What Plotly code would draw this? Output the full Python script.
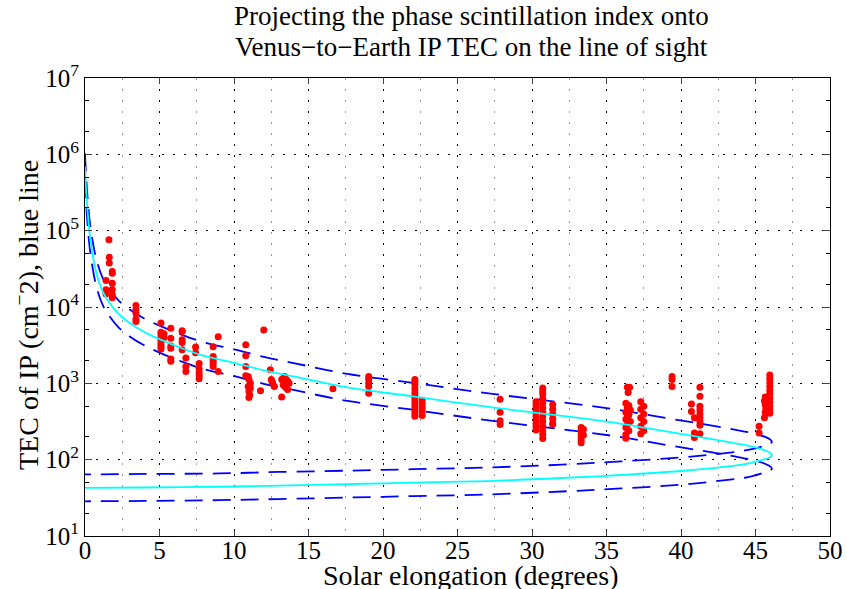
import plotly.graph_objects as go

# ---- model curve (cyan): elongation (deg), TEC (cm^-2)
model_elong = [0.0, 0.1, 0.3, 0.5, 0.8, 1.2, 1.6, 2.2, 3.0, 4.0, 5.0, 6.5, 8.0, 10.0, 12.0,
               14.0, 17.5, 22.0, 26.0, 30.0, 33.0, 36.0, 39.0, 41.5, 43.5, 45.0, 45.6, 46.0,
               46.1, 45.9, 45.5, 44.5, 43.0, 40.0, 36.0, 32.0, 27.0, 22.0, 18.0, 13.0, 9.0,
               4.0, 0.0]
model_tec = [6.9e5, 2.82e5, 9.55e4, 5.01e4, 2.63e4, 1.58e4, 1.17e4, 8320, 6170, 4680, 3800,
             2880, 2290, 1860, 1480, 1230, 891, 676, 525, 417, 355, 295, 234, 195, 166, 145,
             133, 122, 114, 106, 100, 89, 81, 71, 63, 57.5, 52.5, 50, 48, 45.7, 44.2, 43.2,
             42.7]
# ---- dashed envelope (blue)
upper_tec = [1.035e6, 4.23e5, 1.43e5, 7.5e4, 3.95e4, 2.37e4, 1.76e4, 12480, 9260, 7020, 5700,
             4320, 3440, 2790, 2220, 1845, 1340, 1014, 788, 626, 533, 443, 351, 293, 249, 218,
             200, 183, 171, 159, 150, 134, 122, 107, 95, 86, 79, 75, 72, 69, 66, 65, 64]
lower_tec = [4.6e5, 1.88e5, 6.37e4, 3.34e4, 1.75e4, 1.05e4, 7800, 5550, 4110, 3120, 2530,
             1920, 1530, 1240, 987, 820, 594, 451, 350, 278, 237, 197, 156, 130, 111, 97,
             89, 81, 76, 71, 67, 59, 54, 47, 42, 38.3, 35, 33.3, 32, 30.5, 29.5, 28.8, 28.5]

# ---- observations (red dots)
obs_elong = [
    1.61, 1.63, 1.63, 1.83, 1.83, 1.41, 1.83, 1.83, 1.41, 1.41, 1.83, 1.83,
    3.42, 3.42, 3.42, 3.42, 3.42,
    5.1, 5.1, 5.1, 5.1, 5.1, 5.1, 5.1, 5.1, 5.1, 5.3, 5.3,
    5.76, 5.76, 5.76, 5.76, 5.76, 5.76,
    6.52, 6.52, 6.52, 6.52, 6.52,
    6.77, 6.77, 6.77,
    7.42, 7.42,
    7.66, 7.66, 7.66, 7.66, 7.66,
    8.6, 8.6, 8.6, 8.6, 8.6, 8.6, 8.94, 8.94,
    10.79, 10.79, 10.79, 10.79, 10.95, 11.0, 11.1, 10.95, 11.1, 11.0, 11.05, 11.0,
    11.78, 12.0, 12.44, 12.5, 12.6, 12.7, 12.55,
    13.2, 13.3, 13.4, 13.5, 13.6, 13.7, 13.3, 13.45, 13.6, 13.2,
    16.64,
    19.04, 19.04, 19.04, 19.04, 19.04,
    22.14, 22.14, 22.14, 22.14, 22.14, 22.14, 22.14, 22.14, 22.14, 22.14, 22.14, 22.14, 22.14,
    22.63, 22.63, 22.63, 22.63, 22.63,
    27.86, 27.86, 27.86, 27.86,
    30.27, 30.27, 30.27, 30.27, 30.27, 30.27, 30.27, 30.27, 30.27, 30.27,
    30.72, 30.72, 30.72, 30.72, 30.72, 30.72, 30.72, 30.72, 30.72, 30.72, 30.72, 30.72, 30.72,
    31.39, 31.39, 31.39, 31.39, 31.39, 31.39,
    33.3, 33.3, 33.3, 33.3, 33.3, 33.3, 33.45, 33.45,
    36.55, 36.4, 36.45, 36.3, 36.5, 36.4, 36.6, 36.3, 36.5, 36.4, 36.3, 36.6, 36.4, 36.3,
    36.5, 36.3, 36.3,
    37.3, 37.5, 37.3, 37.5, 37.3, 37.5, 37.3, 37.5, 37.3,
    39.4, 39.4, 39.4,
    40.7, 40.7, 40.9, 40.9, 40.9,
    41.27, 41.27, 41.27, 41.27, 41.27, 41.27, 41.27, 41.27, 41.27,
    45.24, 45.24,
    45.65, 45.6, 45.65, 45.7, 45.65, 45.6,
    45.96, 45.96, 45.96, 45.96, 45.96, 45.96, 45.96, 45.96, 45.96, 45.96, 45.96,
]
obs_tec = [
    75800, 44700, 37600, 29200, 27600, 22300, 20400, 17000, 16800, 14800, 14500, 13200,
    10500, 9300, 8300, 6950, 6460,
    6170, 4680, 4370, 3980, 3720, 3470, 3240, 3020, 2820, 4470, 3980,
    5250, 3890, 3090, 2880, 2090, 1950,
    4900, 4790, 3720, 3430, 2750,
    2140, 1660, 1430,
    2990, 2510,
    1820, 1550, 1380, 1260, 1150,
    3020, 2240, 2090, 1950, 1820, 1660, 4070, 1430,
    3200, 2290, 1660, 1260, 1230, 1120, 1000, 910, 870, 780, 710, 650,
    800, 5000, 1510, 1120, 1000, 910, 1050,
    1120, 1170, 1230, 1120, 1070, 1000, 955, 890, 830, 660,
    850,
    1230, 1120, 1000, 910, 740,
    1120, 1050, 955, 850, 760, 690, 630, 575, 525, 480, 435, 400, 370,
    600, 537, 480, 427, 380,
    617, 417, 324, 288,
    575, 525, 480, 437, 398, 363, 331, 295, 269, 245,
    870, 795, 725, 630, 550, 480, 417, 363, 316, 275, 240, 214, 190,
    525, 457, 398, 347, 302, 288,
    263, 240, 219, 200, 182, 166, 250, 210,
    891, 891, 759, 550, 513, 479, 447, 417, 389, 363, 339, 316, 288, 263,
    240, 214, 191,
    575, 501, 457, 398, 355, 316, 275, 240, 219,
    1230, 1120, 910,
    537, 427, 355, 224, 195,
    891, 676, 501, 447, 398, 355, 316, 282, 219,
    275, 224,
    661, 589, 525, 468, 417, 355,
    1288, 1148, 1023, 912, 813, 724, 631, 562, 501, 447, 407,
]

x_ticks = [0, 5, 10, 15, 20, 25, 30, 35, 40, 45, 50]
y_ticks = [1e1, 1e2, 1e3, 1e4, 1e5, 1e6, 1e7]
y_ticktext = ["10<sup>1</sup>", "10<sup>2</sup>", "10<sup>3</sup>", "10<sup>4</sup>",
              "10<sup>5</sup>", "10<sup>6</sup>", "10<sup>7</sup>"]
title_lines = ["Projecting the phase scintillation index onto",
               "Venus\u2212to\u2212Earth IP TEC on the line of sight"]

FONT = "Liberation Serif"
W, H = 847, 589
L, R, T, B = 85, 830, 78, 536

fig = go.Figure()
fig.add_trace(go.Scatter(x=model_elong, y=upper_tec, mode="lines",
                         line=dict(color="#0000FF", width=1.8, dash="18px,10px", shape="spline"),
                         showlegend=False, hoverinfo="skip"))
fig.add_trace(go.Scatter(x=model_elong, y=lower_tec, mode="lines",
                         line=dict(color="#0000FF", width=1.8, dash="18px,10px", shape="spline"),
                         showlegend=False, hoverinfo="skip"))
fig.add_trace(go.Scatter(x=obs_elong, y=obs_tec, mode="markers",
                         marker=dict(color="#FF0000", size=7, line=dict(width=0)),
                         showlegend=False))
fig.add_trace(go.Scatter(x=model_elong, y=model_tec, mode="lines",
                         line=dict(color="#00FFFF", width=1.8, shape="spline"),
                         showlegend=False))


def px_x(p):
    return (p - L) / (R - L)


def px_y(p):
    return (B - p) / (B - T)


fig.update_layout(
    width=W, height=H,
    margin=dict(l=L, r=W - R, t=T, b=H - B, autoexpand=False),
    paper_bgcolor="white", plot_bgcolor="white",
    font=dict(family=FONT, size=25, color="black"),
    xaxis=dict(range=[0, 50], tickvals=x_ticks, ticks="inside", ticklen=6,
               showline=True, linecolor="black", linewidth=1, mirror="allticks",
               showgrid=True, gridcolor="black", gridwidth=1, griddash="2px,9px",
               zeroline=False, tickfont=dict(size=25), automargin=False,
               ticklabelstandoff=-8, ticklabeloverflow="allow",
               minor=dict(dtick=2.5, showgrid=True, gridcolor="#999999",
                          griddash="2px,9px", gridwidth=1, ticks="")),
    yaxis=dict(type="log", range=[1, 7], tickvals=y_ticks, ticktext=y_ticktext,
               ticks="inside", ticklen=7, showline=True, linecolor="black", linewidth=1,
               mirror="allticks", showgrid=True, gridcolor="black", gridwidth=1,
               griddash="2px,9px", zeroline=False, tickfont=dict(size=25), automargin=False,
               ticklabeloverflow="allow",
               minor=dict(ticks="inside", ticklen=4, tickcolor="black", showgrid=False)),
    annotations=[
        dict(text=title_lines[0], xref="paper", yref="paper",
             x=px_x(471), y=px_y(16), xanchor="center", yanchor="middle",
             showarrow=False, font=dict(family=FONT, size=27)),
        dict(text=title_lines[1], xref="paper", yref="paper",
             x=px_x(471), y=px_y(47), xanchor="center", yanchor="middle",
             showarrow=False, font=dict(family=FONT, size=27)),
        dict(text="Solar elongation (degrees)", xref="paper", yref="paper",
             x=px_x(470), y=px_y(575), xanchor="center", yanchor="middle",
             showarrow=False, font=dict(family=FONT, size=28)),
        dict(text="TEC of IP (cm<sup>\u2212</sup>2), blue line", xref="paper", yref="paper",
             x=px_x(26), y=px_y(315), xanchor="center", yanchor="middle",
             textangle=-90, showarrow=False, font=dict(family=FONT, size=28)),
    ],
)

fig.write_html("out.html",
               config={"displayModeBar": False},
               post_script="document.body.style.margin='0px';"
                           "document.body.style.overflow='hidden';")
